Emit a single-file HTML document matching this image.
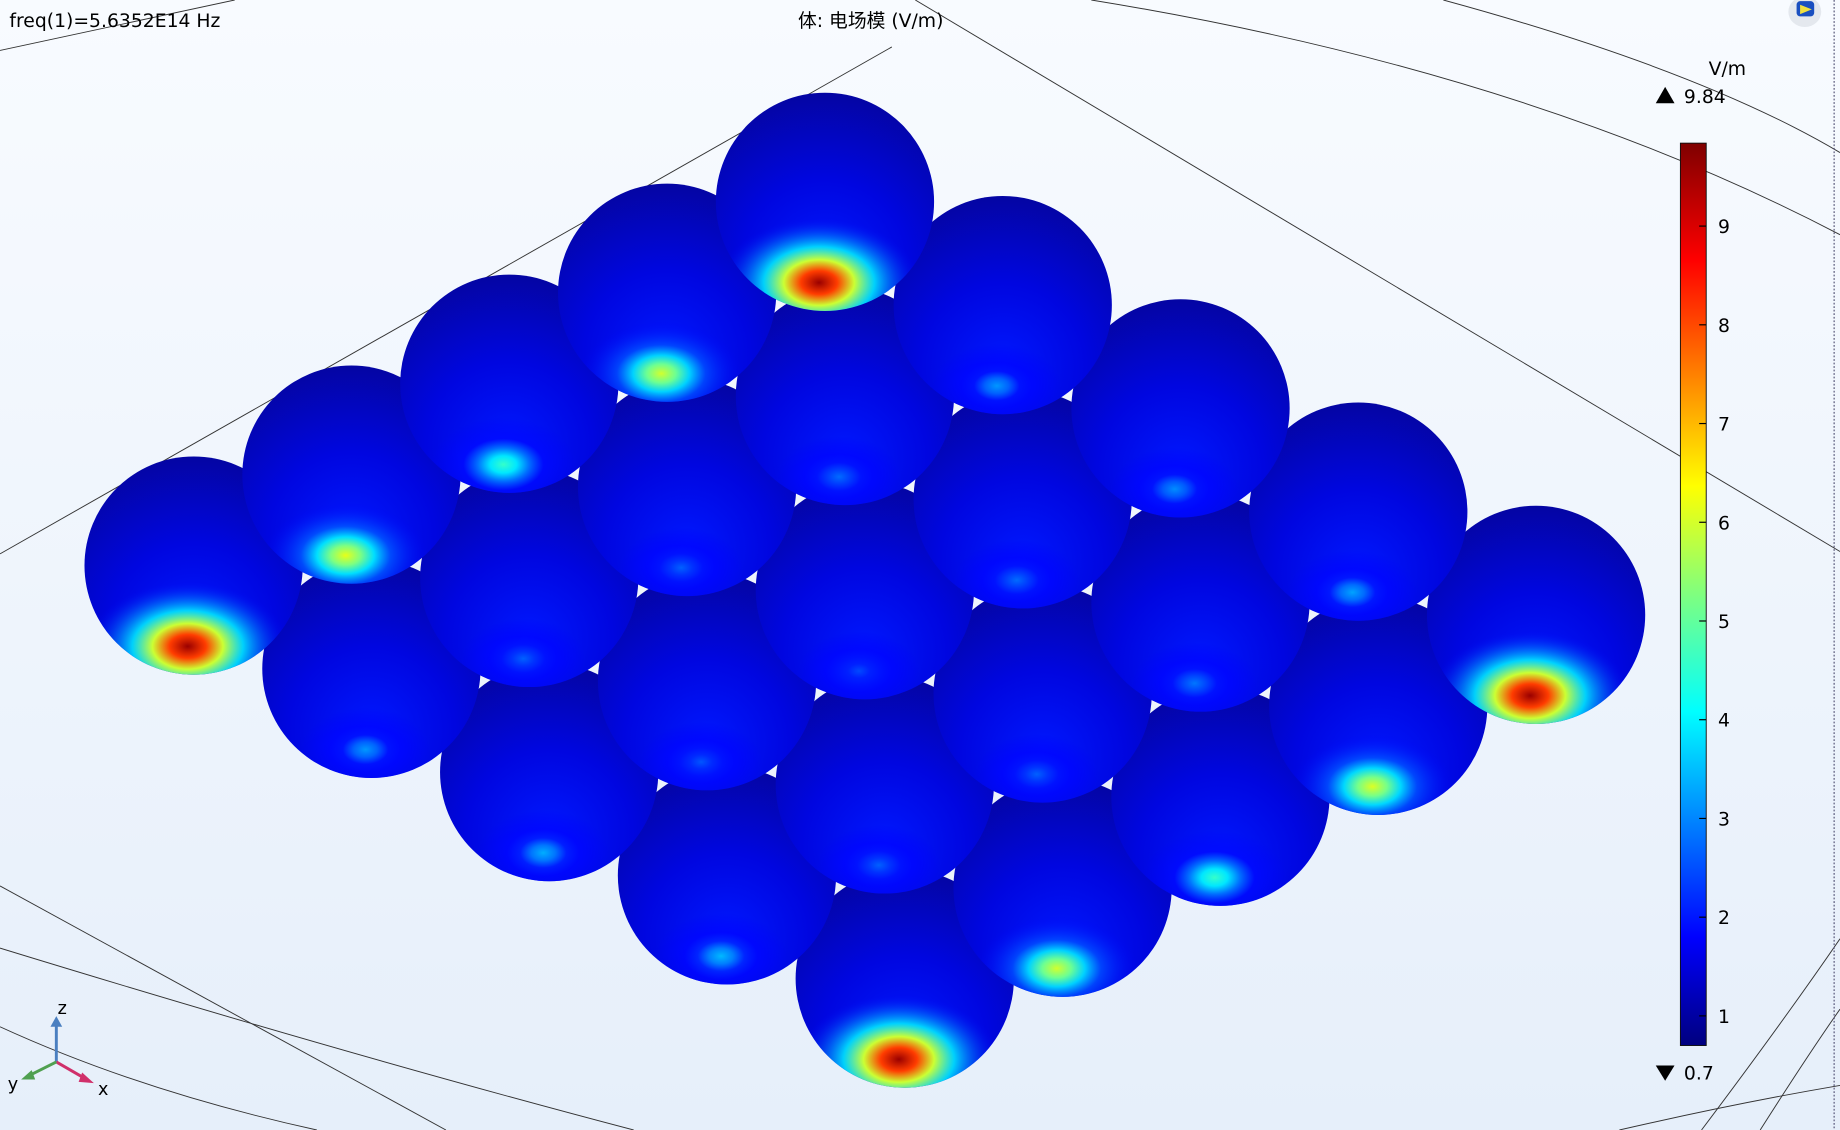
<!DOCTYPE html>
<html><head><meta charset="utf-8">
<style>
html,body{margin:0;padding:0;width:1840px;height:1130px;overflow:hidden;background:#f4f8fd;}
svg{display:block;font-family:"DejaVu Sans","Noto Sans CJK SC",sans-serif;}
</style></head>
<body>
<svg id="plot" width="1840" height="1130" viewBox="0 0 1568 963" preserveAspectRatio="none" xmlns="http://www.w3.org/2000/svg">
<defs>
<linearGradient id="bg" x1="0" y1="0" x2="0" y2="1">
<stop offset="0" stop-color="#f8fbff"/><stop offset="1" stop-color="#e6effa"/>
</linearGradient>
<radialGradient id="sph" cx="0.5" cy="0.78" r="0.85">
<stop offset="0" stop-color="#0018ff"/><stop offset="0.45" stop-color="#0006e0"/><stop offset="1" stop-color="#050598"/>
</radialGradient>
<linearGradient id="cbar" x1="0" y1="1" x2="0" y2="0">
<stop offset="0" stop-color="#00007f"/><stop offset="0.12" stop-color="#0000ff"/><stop offset="0.37" stop-color="#00ffff"/><stop offset="0.5" stop-color="#7fff7f"/><stop offset="0.62" stop-color="#ffff00"/><stop offset="0.87" stop-color="#ff0000"/><stop offset="1" stop-color="#7f0000"/>
</linearGradient>
</defs>
<rect x="0" y="0" width="1568" height="963" fill="url(#bg)"/>
<g fill="none" stroke="#333" stroke-width="0.8">
<path d="M0 43 L200 0"/><path d="M0 472 L760 40"/><path d="M780 0 L1568 470"/>
<path d="M930 0 Q1300 60 1568 200"/><path d="M1230 0 Q1450 60 1568 130"/>
<path d="M0 755 L380 963"/><path d="M0 808 Q300 900 540 963"/><path d="M0 875 Q120 930 270 963"/>
<path d="M1450 963 Q1520 870 1568 800"/><path d="M1500 963 Q1540 900 1568 860"/>
<path d="M1380 963 Q1480 940 1568 925"/>
</g>
<line x1="1563" y1="0" x2="1563" y2="963" stroke="#557" stroke-width="1" stroke-dasharray="1.5 1.5"/>
<g>
<ellipse cx="1538" cy="10" rx="14" ry="13" fill="#e4e8ee"/>
<rect x="1531" y="1" width="15" height="13" rx="3" fill="#1a4fc0"/>
<path d="M1534 4 L1544 8 L1534 12Z" fill="#f0e040"/>
</g>
<g id="spheres"></g>
<text x="8" y="23" font-size="16" fill="#000">freq(1)=5.6352E14 Hz</text>
<text x="742" y="23" font-size="16" text-anchor="middle" fill="#000">体: 电场模 (V/m)</text>
<g>
<text x="1472" y="64" font-size="16" text-anchor="middle">V/m</text>
<path d="M1411 88 L1419 74 L1427 88 Z" fill="#000"/>
<text x="1435" y="88" font-size="16">9.84</text>
<rect x="1432" y="122" width="22" height="769" fill="url(#cbar)" stroke="#111" stroke-width="0.8"/>
<g id="cticks"></g>
<path d="M1411 908 L1427 908 L1419 921 Z" fill="#000"/>
<text x="1435" y="920" font-size="16">0.7</text>
</g>
<g stroke-width="2.5">
<line x1="48" y1="905" x2="48" y2="872" stroke="#4a7fc0"/><path d="M43 875 L48 866 L53 875Z" fill="#4a7fc0"/>
<line x1="48" y1="905" x2="74" y2="920" stroke="#d0306a"/><path d="M70 914 L80 923 L67 922Z" fill="#d0306a"/>
<line x1="48" y1="905" x2="24" y2="917" stroke="#50a050"/><path d="M27 912 L18 920 L30 920Z" fill="#50a050"/>
<text x="53" y="864" font-size="15" text-anchor="middle" stroke="none">z</text>
<text x="88" y="933" font-size="15" text-anchor="middle" stroke="none">x</text>
<text x="11" y="929" font-size="15" text-anchor="middle" stroke="none">y</text>
</g>
</svg>
<script>
// Peak field value at the bottom hotspot of each sphere; rows = i (0..4), columns = j (0..4)
const hotspotRow0 = [9.6, 3.2, 3.4, 3.5, 9.6];
const hotspotRow1 = [6.2, 2.7, 2.6, 2.7, 6.0];
const hotspotRow2 = [4.6, 2.7, 2.5, 2.7, 4.6];
const hotspotRow3 = [6.0, 2.8, 2.8, 2.9, 6.1];
const hotspotRow4 = [9.6, 3.2, 3.1, 3.3, 9.6];
const colorTicks = [1, 2, 3, 4, 5, 6, 7, 8, 9];
const vMin = 0.7, vMax = 9.84;

const rows = [hotspotRow0, hotspotRow1, hotspotRow2, hotspotRow3, hotspotRow4];
const NS = 'http://www.w3.org/2000/svg';
const svg = document.getElementById('plot');
const defs = svg.querySelector('defs');
const R = 93;
function cx(i, j){ return 165 + 134.5*i + 151.5*j; }
function cy(i, j){ return 482 - 77.5*i + 88*j; }
function cbY(v){ return 891 - (v - vMin)/(vMax - vMin)*769; }
function jet(v){
  const t = Math.max(0, Math.min(1, (v - vMin)/(vMax - vMin)));
  const c = x => Math.round(255*Math.max(0, Math.min(1, x)));
  return 'rgb(' + c(1.5-Math.abs(4*t-3)) + ',' + c(1.5-Math.abs(4*t-2)) + ',' + c(1.5-Math.abs(4*t-1)) + ')';
}
const list = [];
rows.forEach((row, i) => row.forEach((v, j) => list.push({i, j, v})));
// higher spheres (smaller y) are in front
list.sort((a, b) => cy(b.i, b.j) - cy(a.i, a.j));
const g = document.getElementById('spheres');
list.forEach((s, k) => {
  const x = cx(s.i, s.j), y = cy(s.i, s.j);
  const grp = document.createElementNS(NS, 'g');
  
  
  const clip = document.createElementNS(NS, 'clipPath');
  clip.id = 'c' + k;
  const cc = document.createElementNS(NS, 'circle');
  cc.setAttribute('cx', x); cc.setAttribute('cy', y); cc.setAttribute('r', R);
  clip.appendChild(cc); defs.appendChild(clip);
  const gr = document.createElementNS(NS, 'radialGradient');
  gr.id = 'h' + k;
  const stops = [[0, s.v, 1], [0.18, s.v*0.85, 1], [0.35, Math.max(2, s.v*0.62), 1], [0.55, Math.max(1.9, s.v*0.42), 0.85], [1, 1.8, 0]];
  stops.forEach(st => {
    const e = document.createElementNS(NS, 'stop');
    e.setAttribute('offset', st[0]);
    e.setAttribute('stop-color', jet(st[1]));
    e.setAttribute('stop-opacity', st[2]);
    gr.appendChild(e);
  });
  defs.appendChild(gr);
  const c = document.createElementNS(NS, 'circle');
  c.setAttribute('cx', x); c.setAttribute('cy', y); c.setAttribute('r', R);
  c.setAttribute('fill', 'url(#sph)');
  grp.appendChild(c);
  const sc = 0.55 + (s.v - vMin)/(vMax - vMin)*0.55;
  const e = document.createElementNS(NS, 'ellipse');
  e.setAttribute('cx', x - 5); e.setAttribute('cy', y + 0.74*R);
  e.setAttribute('rx', 0.85*R*sc); e.setAttribute('ry', 0.55*R*sc);
  e.setAttribute('fill', 'url(#h' + k + ')');
  e.setAttribute('clip-path', 'url(#c' + k + ')');
  
  
  grp.appendChild(e);
  g.appendChild(grp);
});
const ct = document.getElementById('cticks');
colorTicks.forEach(t => {
  const y = cbY(t);
  const l = document.createElementNS(NS, 'line');
  l.setAttribute('x1', 1448); l.setAttribute('x2', 1454);
  l.setAttribute('y1', y); l.setAttribute('y2', y);
  l.setAttribute('stroke', '#000');
  
  
  ct.appendChild(l);
  const tx = document.createElementNS(NS, 'text');
  tx.setAttribute('x', 1464); tx.setAttribute('y', y + 6);
  tx.setAttribute('font-size', '16');
  tx.textContent = t;
  
  
  ct.appendChild(tx);
});
</script>
</body></html>
